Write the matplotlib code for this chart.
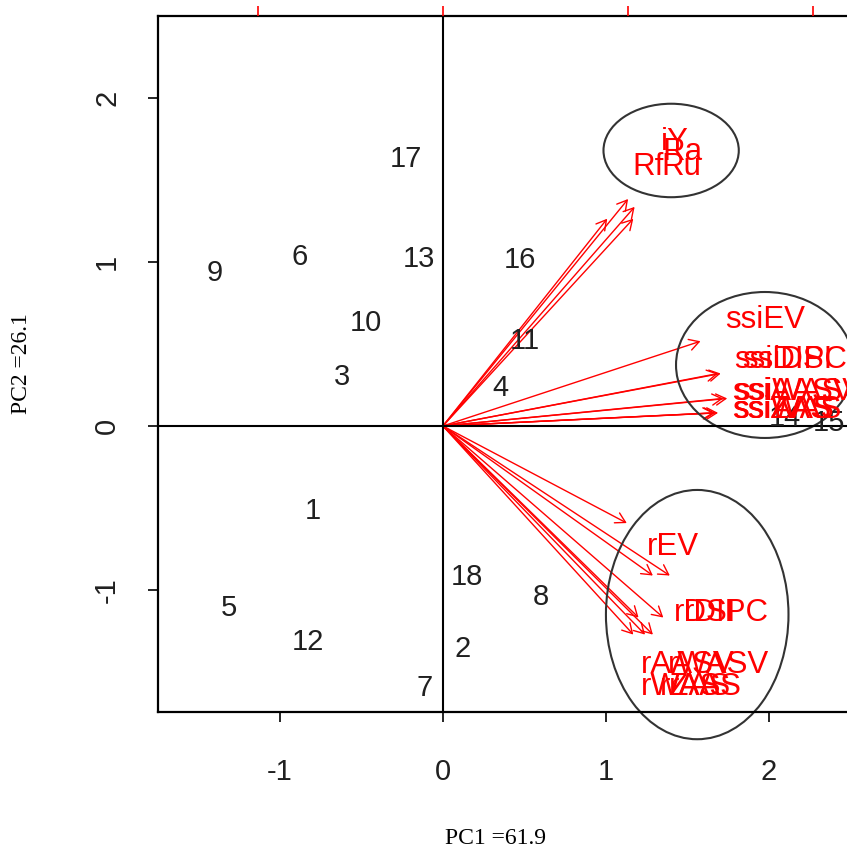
import matplotlib
matplotlib.use('Agg')
import matplotlib.pyplot as plt
from matplotlib.patches import Ellipse, FancyArrowPatch

# observation scores (PC1, PC2)
obs_labels = ['1', '2', '3', '4', '5', '6', '7', '8', '9', '10',
              '11', '12', '13', '14', '15', '16', '17', '18']
obs_pc1 = [-0.80, 0.12, -0.62, 0.35, -1.31, -0.88, -0.11, 0.60, -1.40, -0.47,
           0.50, -0.83, -0.15, 2.10, 2.37, 0.47, -0.23, 0.15]
obs_pc2 = [-0.52, -1.36, 0.30, 0.23, -1.11, 1.03, -1.60, -1.04, 0.93, 0.63,
           0.52, -1.32, 1.02, 0.05, 0.02, 1.01, 1.63, -0.92]

# variable loadings (label positions, arrows drawn at 0.8 like R biplot)
var_labels = ['iY', 'Ra', 'Rf', 'Ru',
              'ssiEV', 'ssiDSI', 'ssiDIPC', 'ssiAASV', 'ssiWASV', 'ssiWAS', 'ssiAAS', 'ssiZAS',
              'rEV', 'rDSI', 'rDIPC', 'rAASV', 'rWASV', 'rWAS', 'rAAS', 'rZAS']
var_pc1 = [1.42, 1.47, 1.26, 1.46,
           1.975, 2.11, 2.13, 2.15, 2.18, 2.11, 2.09, 2.08,
           1.41, 1.61, 1.74, 1.50, 1.69, 1.46, 1.61, 1.55]
var_pc2 = [1.73, 1.67, 1.58, 1.58,
           0.646, 0.40, 0.40, 0.21, 0.21, 0.10, 0.10, 0.10,
           -0.74, -1.14, -1.14, -1.46, -1.46, -1.59, -1.59, -1.59]

x_ticks = [-1, 0, 1, 2]
y_ticks = [-1, 0, 1, 2]

W, H = 847, 850
fig = plt.figure(figsize=(W / 100, H / 100), dpi=100)
ax = fig.add_axes([158 / W, 138 / H, 697 / W, 696 / H])
ax.set_xlim(-1.748, 2.528)
ax.set_ylim(-1.744, 2.5)

sans = 'Liberation Sans'
serif = 'Liberation Serif'
fs = 21

for s in ax.spines.values():
    s.set_linewidth(1.6)
    s.set_color('black')

ax.axhline(0, color='black', lw=1.5)
ax.axvline(0, color='black', lw=1.5)

for lab, x, y in zip(obs_labels, obs_pc1, obs_pc2):
    ax.text(x, y, lab, ha='center', va='center', fontsize=fs, family=sans,
            color='#202020', clip_on=True)

for lab, x, y in zip(var_labels, var_pc1, var_pc2):
    arr = FancyArrowPatch((0, 0), (0.8 * x, 0.8 * y),
                          arrowstyle='->,head_length=7,head_width=4',
                          mutation_scale=1, shrinkA=0, shrinkB=0,
                          color='red', lw=1.0)
    ax.add_patch(arr)
    ax.text(x, y, lab, ha='center', va='center', fontsize=22.5, family=sans,
            color='red', clip_on=True)

# group ellipses
for c, w, h in [((1.40, 1.68), 0.83, 0.57),
                ((1.975, 0.372), 1.09, 0.89),
                ((1.56, -1.15), 1.12, 1.52)]:
    ax.add_patch(Ellipse(c, w, h, fill=False, ec='#333333', lw=1.5, clip_on=False))

ax.set_xticks(x_ticks)
ax.set_yticks(y_ticks)
ax.set_xticklabels([str(v) for v in x_ticks], family=sans, fontsize=fs, color='#202020')
ax.set_yticklabels([str(v) for v in y_ticks], family=sans, fontsize=fs, color='#202020',
                   rotation=90, va='center')
ax.tick_params(axis='x', length=7, width=1.2, pad=26)
ax.tick_params(axis='y', length=7, width=1.2, pad=19.5)

ax.set_xlabel('PC1 =61.9', family=serif, fontsize=17)
ax.set_ylabel('PC2 =26.1', family=serif, fontsize=17)
ax.xaxis.set_label_coords((495 - 158) / 697, -(828 - 712) / 696)
ax.yaxis.set_label_coords(-(158 - 32) / 697, 0.5)

# red ticks of the loading scale on top
ax2 = ax.twiny()
s = 1.135
ax2.set_xlim(-1.748 / s, 2.528 / s)
ax2.set_xticks([-1, 0, 1, 2])
ax2.set_xticklabels([])
ax2.tick_params(axis='x', colors='red', length=7, width=1.2)
for sp in ax2.spines.values():
    sp.set_visible(False)

fig.savefig('out.png', dpi=100)
